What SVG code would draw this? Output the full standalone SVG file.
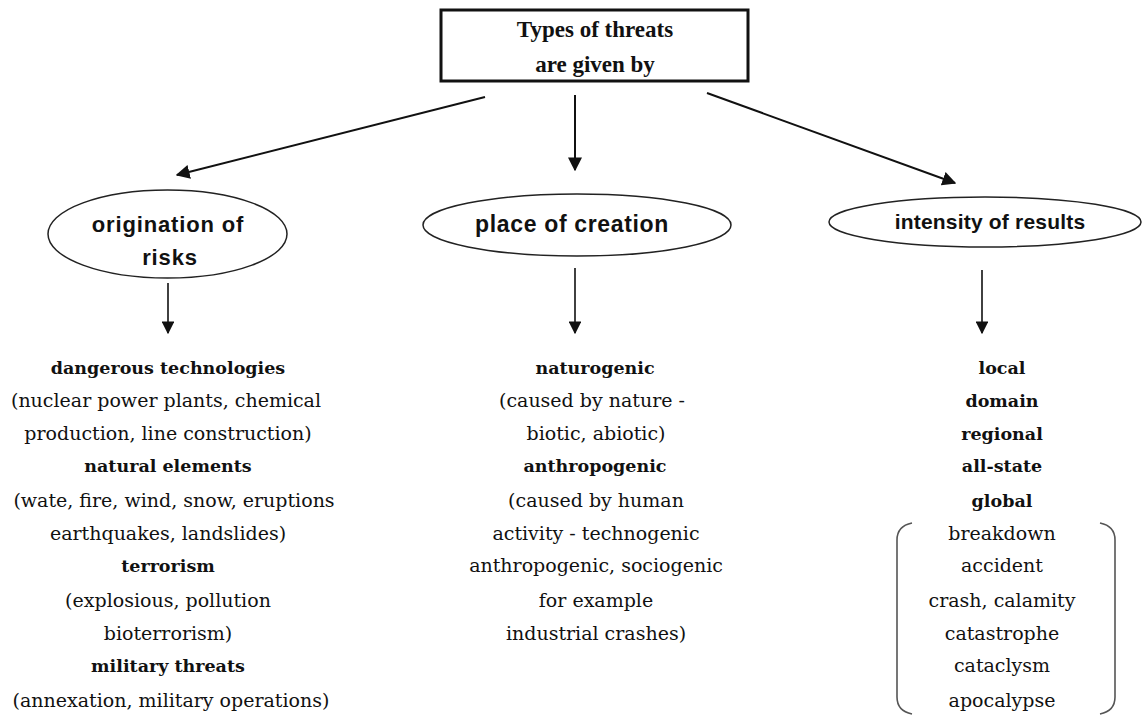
<svg xmlns="http://www.w3.org/2000/svg" width="1143" height="717" viewBox="0 0 1143 717">
<style>
.c{stroke:#111;stroke-width:2;fill:none}
.d{stroke:#111;stroke-width:1.6;fill:none}
.el{fill:#fff;stroke:#222;stroke-width:1.5}
.h{font-family:"Liberation Sans Narrow","Liberation Sans",Arial,sans-serif;font-weight:bold;fill:#111;text-anchor:middle}
.t{font-family:"DejaVu Serif","Liberation Serif",serif;font-size:19px;fill:#111;text-anchor:middle}
.b{font-weight:bold;font-size:17.5px}
.br{stroke:#555;stroke-width:1.6;fill:none}
</style>
<defs>
<marker id="ah" viewBox="0 0 10 10" refX="9" refY="5" markerWidth="7" markerHeight="7" markerUnits="strokeWidth" orient="auto">
<path d="M0,0 L10,5 L0,10 z" fill="#111"/>
</marker>
<marker id="ah2" viewBox="0 0 10 10" refX="9" refY="5" markerWidth="8" markerHeight="8" markerUnits="strokeWidth" orient="auto">
<path d="M0,0 L10,5 L0,10 z" fill="#111"/>
</marker>
</defs>
<rect width="1143" height="717" fill="#fff"/>
<g id="connectors">
<line class="c" x1="485" y1="97" x2="177" y2="175" marker-end="url(#ah)"/>
<line class="c" x1="575" y1="95" x2="575" y2="170" marker-end="url(#ah)"/>
<line class="c" x1="707" y1="93" x2="955" y2="183" marker-end="url(#ah)"/>
<line class="d" x1="168" y1="283" x2="168" y2="333" marker-end="url(#ah2)"/>
<line class="d" x1="575" y1="268" x2="575" y2="333" marker-end="url(#ah2)"/>
<line class="d" x1="982" y1="270" x2="982" y2="333" marker-end="url(#ah2)"/>
</g>
<g id="root">
<rect x="441" y="10" width="307" height="71" fill="#fff" stroke="#111" stroke-width="3"/>
<text x="595" y="37" font-family="Liberation Serif,serif" font-weight="bold" font-size="23" text-anchor="middle" fill="#111">Types of threats</text>
<text x="595" y="72" font-family="Liberation Serif,serif" font-weight="bold" font-size="23" text-anchor="middle" fill="#111">are given by</text>
</g>
<g id="origination">
<ellipse class="el" cx="167.5" cy="234" rx="119.5" ry="44"/>
<text class="h" x="168" y="232" font-size="22" letter-spacing="0.85">origination of</text>
<text class="h" x="170" y="265" font-size="22" letter-spacing="0.85">risks</text>
</g>
<g id="place">
<ellipse class="el" cx="577" cy="225" rx="154" ry="31"/>
<text class="h" x="572" y="232" font-size="23" letter-spacing="0.65">place of creation</text>
</g>
<g id="intensity">
<ellipse class="el" cx="985" cy="222" rx="156" ry="25"/>
<text class="h" x="990" y="229" font-size="21" letter-spacing="0.2">intensity of results</text>
</g>
<g id="origination-list">
<text class="t b" x="168" y="374">dangerous technologies</text>
<text class="t" x="166" y="407">(nuclear power plants, chemical</text>
<text class="t" x="168" y="440">production, line construction)</text>
<text class="t b" x="168" y="472">natural elements</text>
<text class="t" x="174" y="507">(wate, fire, wind, snow, eruptions</text>
<text class="t" x="168" y="540">earthquakes, landslides)</text>
<text class="t b" x="168" y="572">terrorism</text>
<text class="t" x="168" y="607">(explosious, pollution</text>
<text class="t" x="168" y="640">bioterrorism)</text>
<text class="t b" x="168" y="672">military threats</text>
<text class="t" x="171" y="707">(annexation, military  operations)</text>
</g>
<g id="place-list">
<text class="t b" x="595" y="374">naturogenic</text>
<text class="t" x="592" y="407">(caused by nature -</text>
<text class="t" x="596" y="440">biotic, abiotic)</text>
<text class="t b" x="595" y="472">anthropogenic</text>
<text class="t" x="596" y="507">(caused by human</text>
<text class="t" x="596" y="540">activity - technogenic</text>
<text class="t" x="596" y="572">anthropogenic, sociogenic</text>
<text class="t" x="596" y="607">for example</text>
<text class="t" x="596" y="640">industrial crashes)</text>
</g>
<g id="intensity-list">
<text class="t b" x="1002" y="374">local</text>
<text class="t b" x="1002" y="407">domain</text>
<text class="t b" x="1002" y="440">regional</text>
<text class="t b" x="1002" y="472">all-state</text>
<text class="t b" x="1002" y="507">global</text>
<text class="t" x="1002" y="540">breakdown</text>
<text class="t" x="1002" y="572">accident</text>
<text class="t" x="1002" y="607">crash, calamity</text>
<text class="t" x="1002" y="640">catastrophe</text>
<text class="t" x="1002" y="672">cataclysm</text>
<text class="t" x="1002" y="707">apocalypse</text>
<path class="br" d="M912,523 Q897,526 897,540 L897,697 Q897,711 912,714"/>
<path class="br" d="M1100,523 Q1115,526 1115,540 L1115,697 Q1115,711 1100,714"/>
</g>
</svg>
